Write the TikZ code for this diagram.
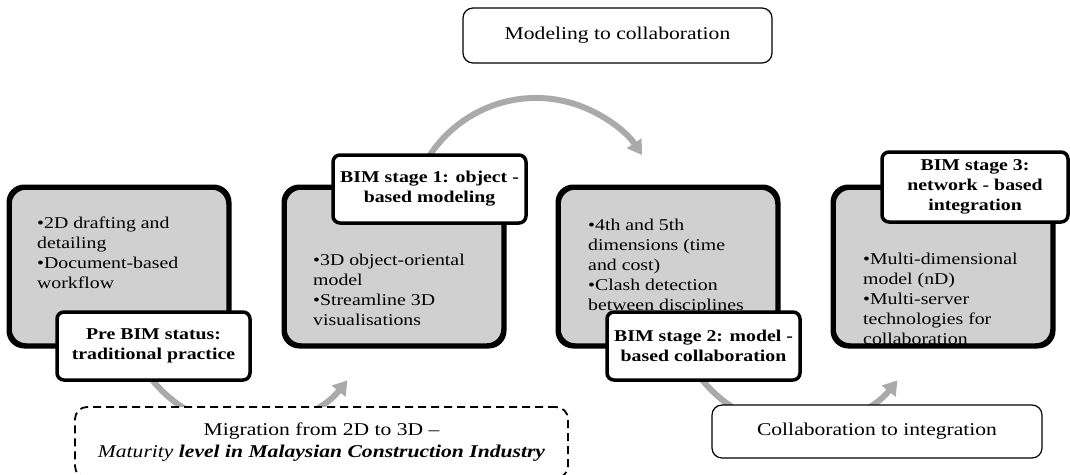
\documentclass[tikz,border=0pt]{standalone}
\usepackage{fontspec}
\setmainfont{Liberation Serif}[FakeStretch=1.2]
\usetikzlibrary{arrows.meta}
\definecolor{boxgray}{RGB}{208,208,208}
\definecolor{arrowgray}{RGB}{170,170,170}
\begin{document}
\begin{tikzpicture}[x=1pt,y=-1pt,
  graybox/.style={draw=black, line width=3.5pt, fill=boxgray, rounded corners=16pt,
    minimum width=218pt, minimum height=157pt, inner sep=0pt},
  labelbox/.style={draw=black, line width=3.5pt, fill=white, rounded corners=7pt,
    minimum width=193pt, minimum height=68pt, inner sep=0pt, align=center,
    font=\fontsize{16.5}{20}\selectfont\bfseries},
  bullettext/.style={anchor=base west, inner sep=0pt, font=\fontsize{16.5}{20}\selectfont},
  thinbox/.style={draw=black, line width=1.2pt, fill=white, rounded corners=10pt,
    inner sep=0pt, align=center, font=\fontsize{18}{22}\selectfont},
  dashbox/.style={draw=black, line width=1.8pt, dash pattern=on 8pt off 5pt, fill=white,
    rounded corners=12pt, inner sep=0pt, align=center, font=\fontsize{18}{22}\selectfont},
  flow/.style={draw=arrowgray, line width=6pt, -{Triangle[length=14pt,width=17pt]}}
]
\clip (0,0) rectangle (1070,474);
% arc centres
\coordinate (c1) at (250,302);
\coordinate (c2) at (536,225);
\coordinate (c3) at (800,302);
% arrows (behind everything)
\draw[flow] (c1) ++(150:125) arc[start angle=150, end angle=38.8, radius=125];
\draw[flow] (c2) ++(200:127) arc[start angle=200, end angle=326.5, radius=127];
\draw[flow] (c3) ++(150:125) arc[start angle=150, end angle=38.8, radius=125];
% gray boxes
\node[graybox] (b1) at (119,266.5) {};
\node[graybox] (b2) at (394,266.5) {};
\node[graybox] (b3) at (668,266.5) {};
\node[graybox] (b4) at (943,266.5) {};
% bullet texts
\node[bullettext] (t1) at (37,228) {\begin{tabular}[t]{@{}l@{}}•2D drafting and\\ detailing\\ •Document-based\\ workflow\end{tabular}};
\node[bullettext] (t2) at (313,265) {\begin{tabular}[t]{@{}l@{}}•3D object-oriental\\ model\\ •Streamline 3D\\ visualisations\end{tabular}};
\node[bullettext] (t3) at (588,230) {\begin{tabular}[t]{@{}l@{}}•4th and 5th\\ dimensions (time\\ and cost)\\ •Clash detection\\ between disciplines\end{tabular}};
\node[bullettext] (t4) at (863,264) {\begin{tabular}[t]{@{}l@{}}•Multi-dimensional\\ model (nD)\\ •Multi-server\\ technologies for\\ collaboration\end{tabular}};
% redraw box borders over overflowing text
\foreach \b in {b1,b2,b3,b4}{
  \draw[line width=3.5pt, rounded corners=16pt] (\b.north west) rectangle (\b.south east);
}
% stage labels
\node[labelbox] (l1) at (153.5,346) {Pre BIM status:\\ traditional practice};
\node[labelbox] (l2) at (429.5,189) {BIM stage 1: object -\\ based modeling};
\node[labelbox] (l3) at (703.5,346) {BIM stage 2: model -\\ based collaboration};
\node[labelbox, minimum width=186pt, minimum height=70pt] (l4) at (975,187) {BIM stage 3:\\ network - based\\ integration};
% transition boxes
\node[thinbox, minimum width=309pt, minimum height=55pt] (m1) at (617.5,35.5) {Modeling to collaboration};
\node[thinbox, minimum width=330pt, minimum height=53pt] (m3) at (877,431.5) {Collaboration to integration};
\node[dashbox, minimum width=493pt, minimum height=71pt] (m2) at (321.5,442.5) {Migration from 2D to 3D –\\ \textit{Maturity} \textbf{\textit{level in Malaysian Construction Industry}}};
\end{tikzpicture}
\end{document}
